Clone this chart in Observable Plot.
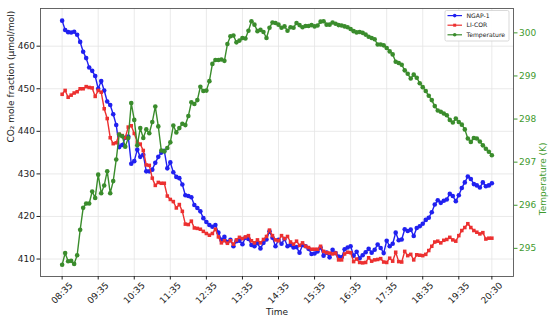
<!DOCTYPE html>
<html>
<head>
<meta charset="utf-8">
<script src="https://cdn.jsdelivr.net/npm/d3@7"></script>
<script src="https://cdn.jsdelivr.net/npm/@observablehq/plot@0.6"></script>
<style>
  html, body { margin: 0; padding: 0; background: #fff; }
  #chart { width: 550px; height: 321px; }
</style>
</head>
<body>
<div id="chart"></div>
<script>
// ---- data (5-minute samples from 08:35 to 20:30) ----
const startTime = "08:35";
const stepMinutes = 5;

const ngap = [
  466.0, 463.8, 463.3, 463.2, 463.4, 462.7, 461.0, 458.7, 457.2, 455.0, 454.2, 453.0,
  450.0, 451.8, 449.6, 447.0, 446.2, 444.0, 441.5, 436.3, 436.8, 438.5, 438.8, 432.4,
  433.0, 435.7, 434.0, 434.5, 430.6, 430.6, 431.0, 432.6, 434.0, 435.0, 435.4, 431.3,
  432.7, 430.4, 429.3, 429.0, 427.5, 425.0, 424.8, 424.5, 422.7, 422.0, 421.2, 419.6,
  418.7, 418.0, 417.6, 418.0, 416.2, 414.5, 415.2, 414.0, 414.5, 413.0, 414.2, 414.3,
  413.5, 415.0, 414.7, 413.3, 413.0, 413.7, 412.5, 413.8, 414.6, 416.5, 415.0, 413.0,
  414.5, 413.6, 414.7, 413.0, 413.3, 412.7, 412.8, 411.5, 413.3, 413.0, 412.4, 411.2,
  411.3, 411.8, 412.7, 410.8, 411.5, 410.4, 412.2, 411.4, 410.6, 410.4, 412.3, 412.7,
  413.0, 410.8, 411.7, 410.2, 410.9, 411.6, 412.4, 411.5, 412.2, 413.4, 412.6, 411.4,
  414.3, 413.0, 413.6, 416.2, 414.4, 414.6, 417.0, 416.6, 416.9, 415.4, 417.3, 417.7,
  418.3, 419.2, 419.7, 421.0, 422.8, 423.8, 423.2, 423.7, 424.0, 425.3, 424.8, 423.6,
  425.0, 426.7, 428.0, 429.4, 428.8, 427.6, 427.3, 426.8, 428.0, 427.1, 427.3, 427.8
];

const licor = [
  448.7, 449.6, 448.0, 448.5, 449.0, 449.3, 450.0, 450.0, 450.5, 450.3, 450.2, 448.2,
  449.6, 449.2, 445.3, 443.0, 438.5, 437.1, 437.3, 439.3, 439.0, 438.5, 441.0, 441.3,
  439.5, 437.5, 437.0, 435.5, 432.1, 432.0, 429.0, 427.3, 428.0, 427.8, 427.8, 424.8,
  424.0, 423.5, 422.0, 422.8, 421.2, 418.2, 418.1, 418.9, 417.3, 417.2, 417.0, 416.5,
  416.0, 415.6, 416.0, 417.0, 415.2, 413.8, 414.3, 413.7, 414.3, 413.5, 414.5, 415.1,
  414.8, 415.2, 415.5, 414.3, 413.8, 414.5, 413.8, 414.6, 415.3, 416.8, 415.5, 414.5,
  414.3, 415.5, 414.8, 415.3, 414.0, 413.5, 414.2, 413.2, 413.8, 413.0, 412.7, 412.3,
  412.3, 412.3, 413.0, 411.8, 411.5, 411.4, 411.2, 411.4, 409.8, 409.8, 411.2, 411.6,
  411.5, 409.4, 410.0, 409.2, 409.1, 409.2, 410.3, 409.5, 409.8, 409.9, 410.1, 409.3,
  409.2, 410.2, 409.5, 411.6, 409.4, 409.3, 411.8, 410.8, 411.1, 409.8, 411.0, 410.9,
  410.8, 411.1, 412.0, 413.0, 414.0, 414.2, 413.8, 414.4, 414.6, 415.1, 414.5, 414.2,
  415.5, 416.7, 417.4, 418.3, 417.4, 416.7, 416.3, 415.9, 416.2, 414.7, 414.9, 414.9
];

const temperature = [
  294.62, 294.89, 294.70, 294.71, 294.64, 294.84, 295.43, 295.94, 296.04, 296.04, 296.32, 296.17,
  296.71, 296.28, 296.46, 296.79, 296.28, 296.56, 297.06, 297.64, 297.60, 297.36, 297.56, 298.37,
  297.98, 297.39, 297.79, 297.56, 297.76, 297.67, 297.93, 298.29, 297.83, 297.27, 297.25, 297.33,
  297.46, 297.85, 297.69, 297.79, 297.89, 297.86, 298.07, 298.39, 298.35, 298.44, 298.75, 298.65,
  298.66, 298.88, 299.28, 299.37, 299.37, 299.38, 299.35, 299.74, 299.92, 299.94, 299.78, 299.82,
  299.88, 299.87, 300.05, 300.27, 300.19, 300.04, 300.07, 300.02, 299.88, 300.12, 300.24, 300.23,
  300.19, 300.12, 300.15, 300.05, 300.13, 300.12, 300.23, 300.18, 300.13, 300.16, 300.16, 300.18,
  300.15, 300.17, 300.26, 300.27, 300.19, 300.19, 300.24, 300.21, 300.18, 300.17, 300.15, 300.13,
  300.09, 300.04, 300.01, 300.02, 300.00, 299.96, 299.91, 299.88, 299.85, 299.73, 299.73, 299.71,
  299.65, 299.57, 299.50, 299.33, 299.30, 299.26, 299.13, 299.05, 298.94, 299.03, 298.96, 298.83,
  298.74, 298.65, 298.54, 298.44, 298.30, 298.20, 298.17, 298.13, 298.09, 297.98, 297.92, 298.01,
  297.93, 297.87, 297.76, 297.55, 297.47, 297.56, 297.55, 297.48, 297.39, 297.31, 297.24, 297.16
];

const xTickLabels = ["08:35","09:35","10:35","11:35","12:35","13:35","14:35","15:35","16:35","17:35","18:35","19:35","20:30"];
const co2Ticks = [410, 420, 430, 440, 450, 460];
const tempTicks = [295, 296, 297, 298, 299, 300];
const seriesNames = ["NGAP-1", "LI-COR", "Temperature"];

// ---- helpers ----
function parseHM(s) { const [h, m] = s.split(":").map(Number); return new Date(2024, 0, 1, h, m); }
const t0 = parseHM(startTime);
const times = ngap.map((_, i) => new Date(+t0 + i * stepMinutes * 60000));
const xTicks = xTickLabels.map(parseHM);

// twin axis: map temperature (K) onto the CO2 scale
const tA = 295, tB = 300, yA = 412.51, yB = 463.13;
const toLeft = t => yA + (t - tA) * (yB - yA) / (tB - tA);
const fromLeft = v => tA + (v - yA) * (tB - tA) / (yB - yA);

const rows = [];
times.forEach((t, i) => {
  rows.push({time: t, s: seriesNames[0], v: ngap[i]});
  rows.push({time: t, s: seriesNames[1], v: licor[i]});
  rows.push({time: t, s: seriesNames[2], v: toLeft(temperature[i])});
});
const bySeries = name => rows.filter(d => d.s === name);

const BLUE = "#2020f0", RED = "#ec3030", GREEN = "#3a8c2c", TGREEN = "#3f9a2e";

const W = 550, H = 321;
const mL = 40, mR = 37, mT = 8, mB = 45;

const pad = 36 * 60000;
const chart = Plot.plot({
  width: W, height: H,
  marginLeft: mL, marginRight: mR, marginTop: mT, marginBottom: mB,
  style: {fontFamily: "'DejaVu Sans', sans-serif", fontSize: "9px", background: "#fff"},
  x: {type: "utc", domain: [new Date(+xTicks[0] - pad), new Date(+xTicks[xTicks.length - 1] + pad)]},
  y: {domain: [405.9, 468.85]},
  marks: [
    Plot.gridX(xTicks, {stroke: "#e4e4e4", strokeOpacity: 1, strokeWidth: 0.8}),
    Plot.gridY(co2Ticks, {stroke: "#e4e4e4", strokeOpacity: 1, strokeWidth: 0.8}),
    Plot.line(bySeries("NGAP-1"), {x: "time", y: "v", stroke: BLUE, strokeWidth: 1.4}),
    Plot.dot(bySeries("NGAP-1"), {x: "time", y: "v", fill: BLUE, r: 2.3, stroke: null}),
    Plot.line(bySeries("LI-COR"), {x: "time", y: "v", stroke: RED, strokeWidth: 1.4}),
    Plot.dot(bySeries("LI-COR"), {x: "time", y: "v", fill: RED, r: 2.0, symbol: "square", stroke: null}),
    Plot.line(bySeries("Temperature"), {x: "time", y: "v", stroke: GREEN, strokeWidth: 1.4}),
    Plot.dot(bySeries("Temperature"), {x: "time", y: "v", fill: GREEN, r: 2.3, stroke: null}),
    Plot.frame({stroke: "#555", strokeWidth: 0.9}),
    Plot.axisY(co2Ticks, {anchor: "left", tickSize: 3.5, tickPadding: 2, color: "#222", fontSize: 9, label: null}),
    Plot.axisY(tempTicks.map(toLeft), {anchor: "right", tickSize: 3.5, tickPadding: 2, color: TGREEN, fontSize: 9, label: null,
      tickFormat: d => String(Math.round(fromLeft(d)))}),
    Plot.axisX(xTicks, {anchor: "bottom", tickSize: 3.5, tickFormat: () => "", label: null, color: "#222"}),
    Plot.text(xTicks, {x: d => d, text: (d, i) => xTickLabels[i], frameAnchor: "bottom", dy: 16.5, rotate: -45,
      textAnchor: "middle", lineAnchor: "middle", fill: "#222", fontSize: 9}),
    Plot.text(["Time"], {frameAnchor: "bottom", dy: 36, fill: "#222", fontSize: 9, lineAnchor: "middle"}),
    Plot.text(["CO₂ mole fraction (μmol/mol)"], {frameAnchor: "left", dx: -29, rotate: -90, fill: "#222", fontSize: 9, lineAnchor: "middle"}),
    Plot.text(["Temperature (K)"], {frameAnchor: "right", dx: 30, rotate: -90, fill: TGREEN, fontSize: 9, lineAnchor: "middle"})
  ]
});
document.getElementById("chart").appendChild(chart);

// ---- legend (inside plot, top-right) ----
const svg = d3.select(chart);
const lg = svg.append("g")
  .attr("font-family", "'DejaVu Sans', sans-serif")
  .style("font-size", "6.1px")
  .attr("text-anchor", "start");
lg.append("rect").attr("x", 445).attr("y", 10.5).attr("width", 64).attr("height", 30.5)
  .attr("rx", 1.5).attr("fill", "#fff").attr("fill-opacity", 0.9).attr("stroke", "#cfcfcf").attr("stroke-width", 0.8);
const entries = [
  {name: seriesNames[0], color: BLUE, shape: "circle"},
  {name: seriesNames[1], color: RED, shape: "square"},
  {name: seriesNames[2], color: GREEN, shape: "circle"}
];
entries.forEach((e, i) => {
  const y = 15.6 + i * 9.6;
  lg.append("line").attr("x1", 447.5).attr("x2", 462).attr("y1", y).attr("y2", y).attr("stroke", e.color).attr("stroke-width", 1.2);
  if (e.shape === "circle") lg.append("circle").attr("cx", 454.7).attr("cy", y).attr("r", 1.8).attr("fill", e.color);
  else lg.append("rect").attr("x", 453.2).attr("y", y - 1.5).attr("width", 3).attr("height", 3).attr("fill", e.color);
  lg.append("text").attr("x", 466.5).attr("y", y).attr("dy", "0.35em").attr("text-anchor", "start").attr("fill", "#222").text(e.name);
});
</script>
</body>
</html>
